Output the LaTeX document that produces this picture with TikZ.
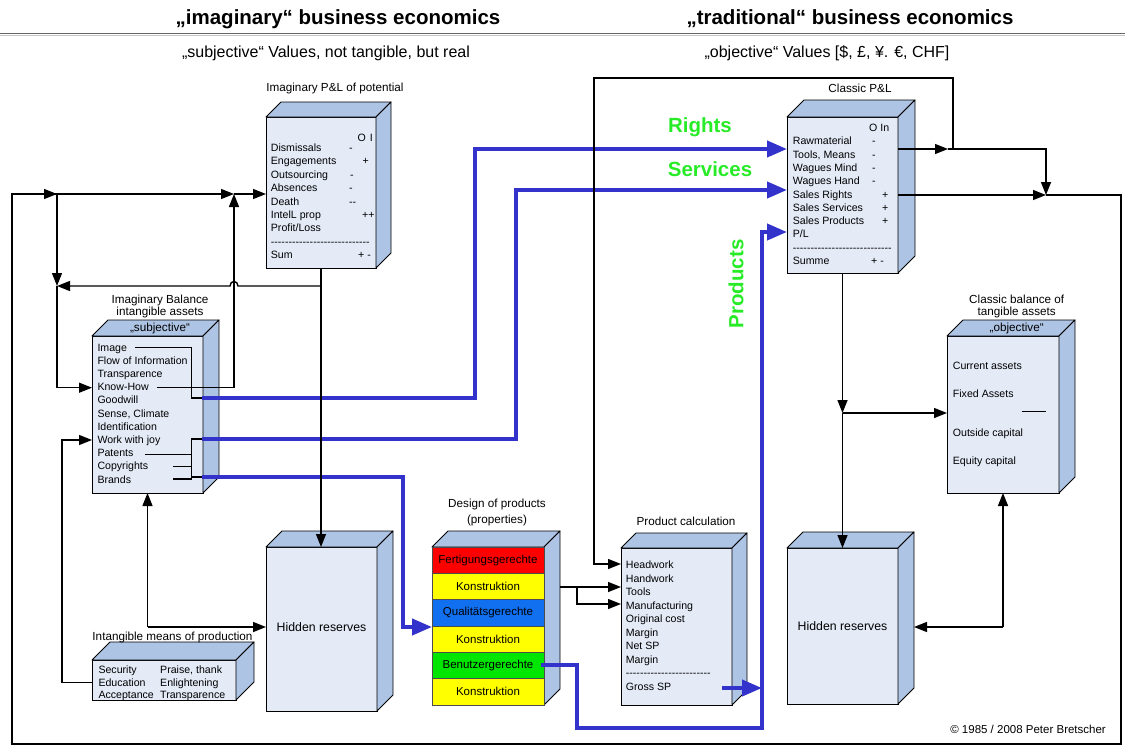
\documentclass[tikz,border=0pt]{standalone}
\usepackage{fontspec}
\setmainfont{Liberation Sans}[Ligatures=TeXOff]
\usetikzlibrary{arrows.meta,calc}
\definecolor{facefront}{RGB}{228,235,247}
\definecolor{faceside}{RGB}{174,196,228}
\definecolor{flowblue}{RGB}{51,51,204}
\definecolor{lblgreen}{RGB}{40,235,40}
\definecolor{strred}{RGB}{255,0,0}
\definecolor{stryellow}{RGB}{255,255,0}
\definecolor{strblue}{RGB}{16,112,240}
\definecolor{strgreen}{RGB}{0,230,0}
\tikzset{
  frontbox/.style={draw=black, line width=0.9pt, fill=facefront, inner sep=0pt, outer sep=0pt},
  faceshape/.style={draw=black, line width=0.9pt, fill=faceside, line join=round},
  conn/.style={draw=black, line width=1.4pt},
  arr/.style={-{Triangle[length=13pt,width=10pt]}},
  bconn/.style={draw=flowblue, line width=4pt},
  barr/.style={-{Triangle[length=20pt,width=16pt]}},
  item/.style={anchor=base west, inner sep=0pt, font=\fontsize{10.6}{12}\selectfont},
  lbl/.style={anchor=base, inner sep=0pt, font=\fontsize{11.7}{14}\selectfont},
  stripetxt/.style={inner sep=0pt, font=\fontsize{11.5}{14}\selectfont},
  hidtxt/.style={inner sep=0pt, font=\fontsize{12.3}{14}\selectfont},
  greenlbl/.style={inner sep=0pt, text=lblgreen, font=\fontsize{20.5}{24}\bfseries\selectfont},
  titletxt/.style={anchor=base, inner sep=0pt, font=\fontsize{20.5}{24}\bfseries\selectfont},
  subtxt/.style={anchor=base, inner sep=0pt, font=\fontsize{16}{19}\selectfont},
}
\newcommand{\threedbox}[6]{%
  \node[frontbox, minimum width={(#4)-(#2)}, minimum height={(#5)-(#3)}] (#1) at ({((#2)+(#4))/2},{((#3)+(#5))/2}) {};
  \path[faceshape] (#1.north west) -- ++(#6,-#6) -- ([shift={(#6,-#6)}]#1.north east) -- (#1.north east) -- cycle;
  \path[faceshape] (#1.north east) -- ++(#6,-#6) -- ([shift={(#6,-#6)}]#1.south east) -- (#1.south east) -- cycle;
}
\begin{document}
\begin{tikzpicture}[x=1pt,y=-1pt]
\useasboundingbox (0,0) rectangle (1125,747);

% header
\node[titletxt] (title1) at (338,24) {„imaginary“ business economics};
\node[titletxt] (title2) at (850,24) {„traditional“ business economics};
\draw[line width=1.5pt, black!60] (0,33.5) -- (1125,33.5);
\draw[line width=1pt, black!22] (0,35.5) -- (1125,35.5);
\node[subtxt] (sub1) at (326,57.5) {„subjective“ Values, not tangible, but real};
\node[subtxt] (sub2) at (827,57.5) {„objective“ Values [\$, £, ¥. €, CHF]};

% boxes
\threedbox{ipl}{266}{117}{376}{268}{15}
\threedbox{ib}{92}{336}{203}{493}{16}
\threedbox{im}{92}{660}{236}{700}{18}
\threedbox{hr1}{266}{547}{377}{711}{16}
\threedbox{dp}{432}{547}{544}{705}{16}
\threedbox{pc}{621}{548}{732}{705}{15}
\threedbox{cpl}{787}{117}{898}{273}{17}
\threedbox{cb}{947}{336}{1059}{493}{16}
\threedbox{hr2}{787}{548}{898}{704}{16}

% labels
\node[lbl] (ipllbl) at (335,91) {Imaginary P\&L of potential};
\node[lbl] (iblbl1) at (160,303) {Imaginary Balance};
\node[lbl] (iblbl2) at (160,315.7) {intangible assets};
\node[lbl] (iblbl3) at (160,331) {„subjective“};
\node[lbl] (imlbl) at (172.5,640) {Intangible means of production};
\node[lbl] (dplbl1) at (497,507.3) {Design of products};
\node[lbl] (dplbl2) at (497,523.3) {(properties)};
\node[lbl] (pclbl) at (686,525.7) {Product calculation};
\node[lbl] (cpllbl) at (860,92.3) {Classic P\&L};
\node[lbl] (cblbl1) at (1016.7,303) {Classic balance of};
\node[lbl] (cblbl2) at (1016.7,315.7) {tangible assets};
\node[lbl] (cblbl3) at (1016.7,331.3) {„objective“};
\node[hidtxt] (hr1t) at (321.5,627) {Hidden reserves};
\node[hidtxt] (hr2t) at (842.5,626) {Hidden reserves};

% Imaginary P&L items
\node[item] (iplh) at (357.5,141.5) {O\hspace{4pt}I};
\foreach \t [count=\i] in {Dismissals, Engagements, Outsourcing, Absences, Death, {IntelL prop}, Profit/Loss, ----------------------------, Sum}
  \node[item] (ipli\i) at (270.7,{151.5+13.4*(\i-1)}) {\t};
\node[item] (ips1) at (349,151.5) {-};
\node[item] (ips2) at (362.5,164.9) {+};
\node[item] (ips3) at (350,178.3) {-};
\node[item] (ips4) at (349,191.7) {-};
\node[item] (ips5) at (349,205.1) {--};
\node[item] (ips6) at (362,218.5) {++};
\node[item] (ips9) at (358,258.7) {+ -};

% Imaginary balance items
\foreach \t [count=\i] in {Image, Flow of Information, Transparence, Know-How, Goodwill, {Sense, Climate}, Identification, Work with joy, Patents, Copyrights, Brands}
  \node[item] (ibi\i) at (97.3,{351.1+13.2*(\i-1)}) {\t};

% intangible means
\foreach \t [count=\i] in {Security, Education, Acceptance}
  \node[item] (imA\i) at (98.3,{673.1+12.9*(\i-1)}) {\t};
\foreach \t [count=\i] in {{Praise, thank}, Enlightening, Transparence}
  \node[item] (imB\i) at (160,{673.1+12.9*(\i-1)}) {\t};

% design stripes
\foreach \c/\t [count=\i] in {strred/Fertigungsgerechte, stryellow/Konstruktion, strblue/Qualitätsgerechte, stryellow/Konstruktion, strgreen/Benutzergerechte, stryellow/Konstruktion} {
  \path[draw=black!70, line width=0.8pt, fill=\c] (432,{547+26.33*(\i-1)}) rectangle (544,{547+26.33*\i});
  \node[stripetxt] (dps\i) at (488,{547+26.33*(\i-0.5)}) {\t};
}

% product calculation
\foreach \t [count=\i] in {Headwork, Handwork, Tools, Manufacturing, Original cost, Margin, Net SP, Margin, ------------------------, Gross SP}
  \node[item] (pci\i) at (625.7,{568.8+13.5*(\i-1)}) {\t};

% classic P&L
\node[item] (cplh) at (869,131.5) {O In};
\foreach \t [count=\i] in {Rawmaterial, {Tools, Means}, Wagues Mind, Wagues Hand, Sales Rights, Sales Services, Sales Products, P/L, ----------------------------, Summe}
  \node[item] (cpli\i) at (792.7,{144.8+13.3*(\i-1)}) {\t};
\foreach \i in {1,...,4}
  \node[item] (cplm\i) at (872,{144.8+13.3*(\i-1)}) {-};
\foreach \i in {5,6,7}
  \node[item] (cplp\i) at (882,{144.8+13.3*(\i-1)}) {+};
\node[item] (cpls) at (871,264.5) {+ -};

% classic balance
\node[item] (cb1) at (952.7,369.8) {Current assets};
\node[item] (cb2) at (952.7,397.1) {Fixed Assets};
\node[item] (cb3) at (952.7,436.5) {Outside capital};
\node[item] (cb4) at (952.7,464.5) {Equity capital};
\draw[line width=1pt] (1021.7,411.7) -- (1046,411.7);

% green labels
\node[greenlbl] (rights) at (700,127) {Rights};
\node[greenlbl] (services) at (710,169) {Services};
\node[greenlbl, rotate=90] (products) at (736,284) {Products};

% blue flows
\draw[bconn,barr] (202,398) -- (475,398) -- (475,149) -- (787,149);
\draw[bconn,barr] (202,439) -- (516,439) -- (516,190) -- (787,190);
\draw[bconn,barr] (202,477) -- (403,477) -- (403,627) -- (432,627);
\draw[bconn,barr] (541,665) -- (577,665) -- (577,728) -- (762,728) -- (762,232) -- (787,232);
\draw[bconn,barr] (722,688) -- (762,688);

% IB internal lines
\draw[line width=1.2pt] (135,347.3) -- (191.7,347.3) -- (191.7,398) -- (202,398);
\draw[line width=1.2pt] (145,454.3) -- (191.7,454.3);
\draw[line width=1.2pt] (173.3,466.7) -- (191.7,466.7);
\draw[line width=1.2pt] (173.3,479) -- (191.7,479) -- (191.7,439) -- (202,439);
\draw[line width=1.2pt] (191.7,477) -- (202,477);

% black connectors
\coordinate (jA) at (320,286);
\coordinate (jB) at (57,194);
\coordinate (jC) at (234,194);
\coordinate (jD) at (57,286);
\draw[conn,arr] (ipl.south) -- (ipl.south |- hr1.north);
\draw[conn,arr] (jA) -- (238,286) .. controls (238,280) and (230,280) .. (230,286) -- (jD);
\draw[conn,arr] (898,195) -- (1046,195);
\draw[conn] (1046,195) -- (1121,195) -- (1121,744) -- (12,744) -- (12,194) -- (jB);
\draw[conn,arr] (12,194) -- (jB);
\draw[conn,arr] (jB) -- (jC);
\draw[conn,arr] (jC) -- (ipl.west |- jC);
\draw[conn,arr] (jB) -- (jD);
\draw[conn,arr] (jD) -- (57,387.7) -- (ib.west |- 0,387.7);
\draw[conn,arr] (157,387.7) -- (234,387.7) -- (jC);
\draw[conn,arr] (im.west |- 0,682.7) -- (62,682.7) -- (62,440) -- (ib.west |- 0,440);
\coordinate (jE) at (ib.south |- 0,627);
\draw[conn,arr] (jE) -- (ib.south);
\draw[conn,arr] (jE) -- (hr1.west |- jE);
\draw[conn,arr] (898,149) -- (948,149);
\draw[conn,arr] (948,149) -- (1046,149) -- (1046,195);
\draw[conn,arr] (953,149) -- (953,78) -- (594,78) -- (594,564) -- (pc.west |- 0,564);
\coordinate (jF) at (cpl.south |- 0,413);
\draw[conn,arr] (cpl.south) -- (jF);
\draw[conn,arr] (jF) -- (jF |- hr2.north);
\draw[conn,arr] (jF) -- (cb.west |- jF);
\coordinate (jG) at (1003,627);
\draw[conn,arr] (jG) -- (jG |- cb.south);
\draw[conn,arr] (jG) -- (914,627);
\draw[conn,arr] (560,587) -- (pc.west |- 0,587);
\draw[conn,arr] (577,587) -- (577,604) -- (pc.west |- 0,604);

% copyright
\node[anchor=base east, inner sep=0pt, font=\fontsize{11.5}{13}\selectfont] (copy) at (1106,733) {© 1985 / 2008 Peter Bretscher};
\end{tikzpicture}
\end{document}
